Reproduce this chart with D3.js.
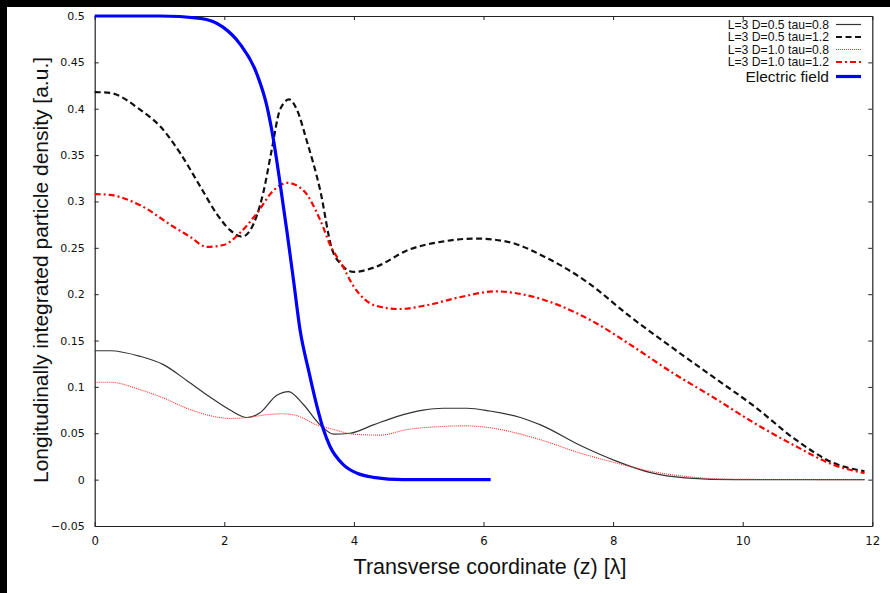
<!DOCTYPE html>
<html>
<head>
<meta charset="utf-8">
<script src="https://cdn.jsdelivr.net/npm/d3@7"></script>
<style>
  body { margin: 0; background: #fff; }
  svg { display: block; }
</style>
</head>
<body>
<div id="chart"></div>
<script>
// data: x in lambda, y in a.u.
var xTicks = [0, 2, 4, 6, 8, 10, 12];
var yTicks = [-0.05, 0, 0.05, 0.1, 0.15, 0.2, 0.25, 0.3, 0.35, 0.4, 0.45, 0.5];

var zD05t08 = [0, 0.24, 0.7, 1.06, 1.42, 1.78, 2.09, 2.35, 2.55, 2.81, 2.99, 3.22, 3.48, 3.69, 3.94, 4.3, 4.66, 5.07, 5.38, 5.75, 6.1, 6.57, 6.88, 7.52, 8.05, 8.58, 9.11, 9.91, 11.88];
var vD05t08 = [0.139, 0.139, 0.133, 0.124, 0.107, 0.089, 0.075, 0.067, 0.072, 0.091, 0.095, 0.081, 0.059, 0.049, 0.05, 0.059, 0.068, 0.075, 0.077, 0.077, 0.074, 0.067, 0.059, 0.036, 0.02, 0.0075, 0.002, 0, 0];

var zD05t12 = [0, 0.24, 0.7, 1.01, 1.32, 1.63, 1.88, 2.09, 2.27, 2.4, 2.6, 2.73, 2.86, 3.0, 3.12, 3.27, 3.48, 3.66, 3.79, 4.0, 4.32, 4.85, 5.39, 5.87, 6.34, 6.98, 7.62, 8.26, 8.9, 9.54, 10.18, 10.82, 11.4, 11.88];
var vD05t12 = [0.418, 0.417, 0.399, 0.381, 0.352, 0.316, 0.287, 0.269, 0.262, 0.269, 0.309, 0.355, 0.399, 0.41, 0.399, 0.366, 0.312, 0.249, 0.233, 0.224, 0.229, 0.248, 0.257, 0.26, 0.257, 0.239, 0.212, 0.176, 0.143, 0.111, 0.079, 0.043, 0.018, 0.009];

var zD10t08 = [0, 0.24, 0.7, 1.06, 1.42, 1.78, 2.09, 2.35, 2.66, 2.89, 3.12, 3.43, 3.69, 4.0, 4.41, 4.82, 5.28, 5.69, 6.1, 6.52, 6.88, 7.52, 8.05, 8.58, 9.11, 9.91, 11.88];
var vD10t08 = [0.105, 0.105, 0.097, 0.088, 0.077, 0.069, 0.066, 0.067, 0.07, 0.071, 0.069, 0.059, 0.054, 0.049, 0.048, 0.054, 0.057, 0.058, 0.056, 0.05, 0.043, 0.028, 0.018, 0.009, 0.0035, 0.0003, 0];

var zD10t12 = [0, 0.24, 0.7, 1.21, 1.47, 1.73, 1.99, 2.24, 2.5, 2.76, 2.97, 3.22, 3.48, 3.66, 3.79, 4.0, 4.32, 4.69, 5.12, 5.65, 6.19, 6.66, 7.2, 7.73, 8.32, 8.9, 9.54, 10.18, 10.82, 11.4, 11.88];
var vD10t12 = [0.308, 0.307, 0.296, 0.273, 0.262, 0.251, 0.253, 0.266, 0.287, 0.312, 0.32, 0.312, 0.28, 0.249, 0.235, 0.208, 0.188, 0.184, 0.188, 0.197, 0.203, 0.199, 0.187, 0.169, 0.143, 0.116, 0.089, 0.061, 0.036, 0.016, 0.007];

var zField = [0, 1.0, 1.63, 1.98, 2.24, 2.5, 2.66, 2.76, 2.86, 2.97, 3.07, 3.17, 3.3, 3.43, 3.53, 3.63, 3.84, 4.05, 4.3, 4.76, 6.11];
var vField = [0.5, 0.5, 0.4975, 0.488, 0.47, 0.438, 0.402, 0.366, 0.32, 0.266, 0.214, 0.161, 0.118, 0.079, 0.054, 0.036, 0.016, 0.0069, 0.0025, 0, 0];

var seriesNames = ["L=3 D=0.5 tau=0.8", "L=3 D=0.5 tau=1.2", "L=3 D=1.0 tau=0.8", "L=3 D=1.0 tau=1.2", "Electric field"];

function pairs(zs, vs) {
  return zs.map(function(z, i) { return {z: z, v: vs[i]}; });
}

var series = [
  {name: seriesNames[0], data: pairs(zD05t08, vD05t08), color: "#333333", width: 1.2, dash: null},
  {name: seriesNames[1], data: pairs(zD05t12, vD05t12), color: "#111111", width: 2.2, dash: "6,3.5"},
  {name: seriesNames[2], data: pairs(zD10t08, vD10t08), color: "#ff3030", width: 1.1, dash: "1,1"},
  {name: seriesNames[3], data: pairs(zD10t12, vD10t12), color: "#ff0000", width: 2.2, dash: "6,3,2,3"},
  {name: seriesNames[4], data: pairs(zField, vField), color: "#0000ff", width: 3.2, dash: null}
];

var W = 890, H = 593;
var margin = {top: 16, right: 17.7, bottom: 67, left: 94.7},
    width = W - margin.left - margin.right,
    height = H - margin.top - margin.bottom;

var svgRoot = d3.select("#chart").append("svg")
  .attr("width", W)
  .attr("height", H);

svgRoot.append("rect").attr("width", W).attr("height", H).attr("fill", "#fff");
// black border strips of the original screenshot
svgRoot.append("rect").attr("x", 0).attr("y", 0).attr("width", W).attr("height", 7).attr("fill", "#000");
svgRoot.append("rect").attr("x", 0).attr("y", 0).attr("width", 7).attr("height", H).attr("fill", "#000");

var svg = svgRoot.append("g")
  .attr("transform", "translate(" + margin.left + "," + margin.top + ")");

var x = d3.scaleLinear().domain([0, 12]).range([0, width]);
var y = d3.scaleLinear().domain([-0.05, 0.5]).range([height, 0]);

var tickFmt = function(d) { return d3.format("")(+d.toFixed(2)); };

// axes, ticks pointing inward
var xBottom = svg.append("g")
  .attr("transform", "translate(0," + height + ")")
  .call(d3.axisBottom(x).tickValues(xTicks).tickSizeInner(-4).tickSizeOuter(0).tickPadding(10));
xBottom.selectAll("text")
  .style("font-family", "'Liberation Sans Narrow', 'DejaVu Sans Condensed', 'Liberation Sans', sans-serif")
  .style("font-size", "13px")
  .attr("fill", "#111");

var xTop = svg.append("g")
  .call(d3.axisTop(x).tickValues(xTicks).tickSizeInner(-4).tickSizeOuter(0).tickFormat(""));

var yLeft = svg.append("g")
  .call(d3.axisLeft(y).tickValues(yTicks).tickSizeInner(-4).tickSizeOuter(0).tickPadding(10).tickFormat(tickFmt));
yLeft.selectAll("text")
  .style("font-family", "'DejaVu Sans', sans-serif")
  .style("font-size", "11px")
  .attr("fill", "#111");

var yRight = svg.append("g")
  .attr("transform", "translate(" + width + ",0)")
  .call(d3.axisRight(y).tickValues(yTicks).tickSizeInner(-4).tickSizeOuter(0).tickFormat(""));

svg.selectAll(".domain").attr("stroke", "#222").attr("stroke-width", 1.2);
svg.selectAll(".tick line").attr("stroke", "#222");

// lines
var line = d3.line()
  .x(function(d) { return x(d.z); })
  .y(function(d) { return y(d.v); })
  .curve(d3.curveMonotoneX);

svg.selectAll(".series")
  .data(series)
  .enter()
  .append("path")
    .attr("class", "series")
    .attr("fill", "none")
    .attr("stroke", function(d) { return d.color; })
    .attr("stroke-width", function(d) { return d.width; })
    .attr("stroke-dasharray", function(d) { return d.dash; })
    .attr("d", function(d) { return line(d.data); });

// legend
var legendY = [24.5, 37, 49.5, 62, 76.5];
var legend = svgRoot.append("g");
series.forEach(function(s, i) {
  var isField = i === 4;
  legend.append("text")
    .attr("x", 829)
    .attr("y", legendY[i])
    .attr("dy", "0.35em")
    .attr("text-anchor", "end")
    .style("font-family", "'Liberation Sans', Arial, sans-serif")
    .style("font-size", isField ? "15.5px" : "12.2px")
    .attr("fill", "#111")
    .text(s.name);
  legend.append("line")
    .attr("x1", 836).attr("x2", 861)
    .attr("y1", legendY[i]).attr("y2", legendY[i])
    .attr("stroke", s.color)
    .attr("stroke-width", s.width)
    .attr("stroke-dasharray", s.dash);
});

// axis titles
svgRoot.append("text")
  .attr("x", 490)
  .attr("y", 574)
  .attr("text-anchor", "middle")
  .style("font-family", "'Liberation Sans', Arial, sans-serif")
  .style("font-size", "21.5px")
  .attr("fill", "#111")
  .text("Transverse coordinate (z) [\u03bb]");

svgRoot.append("text")
  .attr("transform", "translate(48,270)rotate(-90)")
  .attr("text-anchor", "middle")
  .style("font-family", "'Liberation Sans', Arial, sans-serif")
  .style("font-size", "21px")
  .attr("fill", "#111")
  .text("Longitudinally integrated particle density [a.u.]");
</script>
</body>
</html>
